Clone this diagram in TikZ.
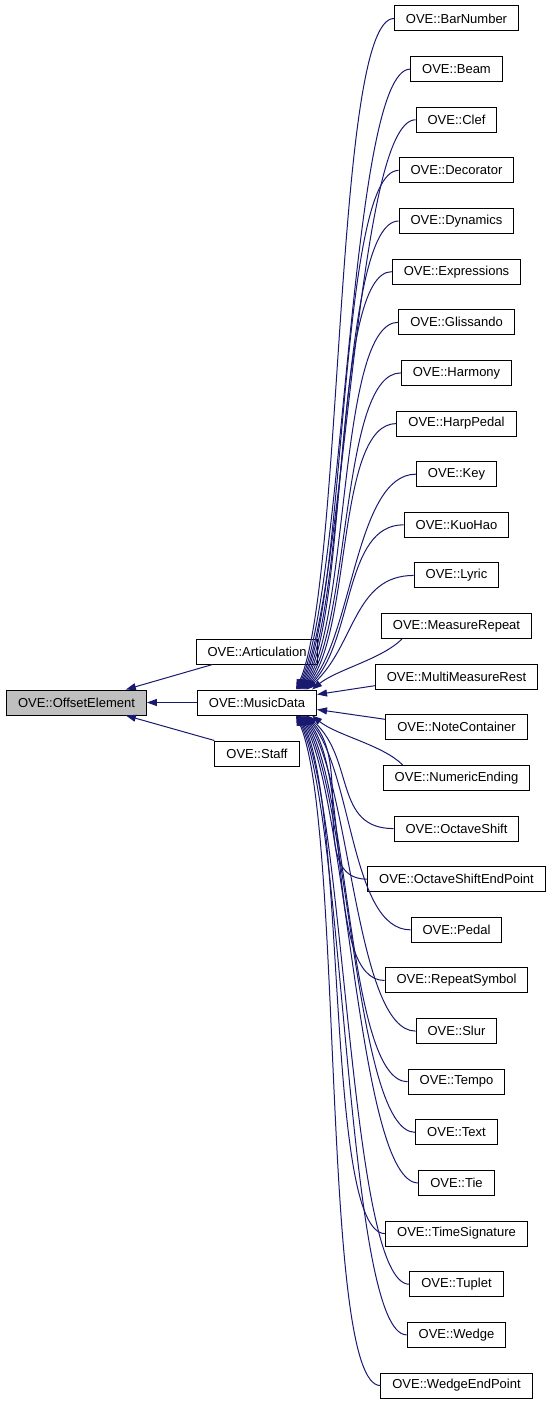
\documentclass[tikz,border=0pt]{standalone}
\usepackage{fontspec}
\setmainfont{Liberation Sans}
\usetikzlibrary{arrows.meta}
\definecolor{edgeblue}{HTML}{191970}
\definecolor{rootgray}{HTML}{BFBFBF}
\tikzset{cls/.style={draw=black,line width=1pt,font=\fontsize{13}{15}\selectfont,inner xsep=11.5pt,inner ysep=0pt,minimum height=25pt},
  inh/.style={edgeblue,line width=1pt,-{Triangle[length=10pt,width=7pt]}}}

\begin{document}
\begin{tikzpicture}[x=1pt,y=-1pt]
\useasboundingbox (0,0) rectangle (552,1405);
\node[cls,fill=rootgray] (oe) at (76.5,702.5) {OVE::OffsetElement};
\node[cls] (art) at (257,651.5) {OVE::Articulation};
\node[cls] (md) at (257,702.5) {OVE::MusicData};
\node[cls] (staff) at (257,753.5) {OVE::Staff};
\foreach \name [count=\i] in {BarNumber,Beam,Clef,Decorator,Dynamics,Expressions,
  Glissando,Harmony,HarpPedal,Key,KuoHao,Lyric,MeasureRepeat,MultiMeasureRest,
  NoteContainer,NumericEnding,OctaveShift,OctaveShiftEndPoint,Pedal,RepeatSymbol,
  Slur,Tempo,Text,Tie,TimeSignature,Tuplet,Wedge,WedgeEndPoint} {
 \node[cls] (c\i) at (456.5,{18.5+50.63*(\i-1)}) {OVE::\name};
}
% children above the data class
\foreach \i in {1,...,12} {
 \pgfmathsetmacro{\h}{30+0.12*(690-(18.5+50.63*(\i-1)))}
 \pgfmathsetmacro{\s}{-10-(12-\i)*1.0}
 \draw[inh] (c\i.west) .. controls +(-60,0) and +(48,-\h) .. ([xshift=\s]md.north east);
}
% children below it
\foreach \i in {17,...,28} {
 \pgfmathsetmacro{\h}{30+0.12*((18.5+50.63*(\i-1))-715)}
 \pgfmathsetmacro{\s}{-10-(\i-17)*1.0}
 \draw[inh] (c\i.west) .. controls +(-60,0) and +(48,\h) .. ([xshift=\s]md.south east);
}
\draw[inh] ([xshift=21]c13.south west) .. controls +(-20,20) and +(25,-20) .. ([xshift=-5]md.north east);
\draw[inh] ([yshift=-9]c14.west) -- ([yshift=8]md.east);
\draw[inh] ([yshift=8]c15.west) -- ([yshift=-7]md.east);
\draw[inh] ([xshift=20]c16.north west) .. controls +(-20,-20) and +(25,20) .. ([xshift=-5]md.south east);
\draw[inh] ([xshift=17]art.south west) -- ([xshift=-21]oe.north east);
\draw[inh] (md.west) -- (oe.east);
\draw[inh] (staff.north west) -- ([xshift=-21]oe.south east);
\end{tikzpicture}
\end{document}
